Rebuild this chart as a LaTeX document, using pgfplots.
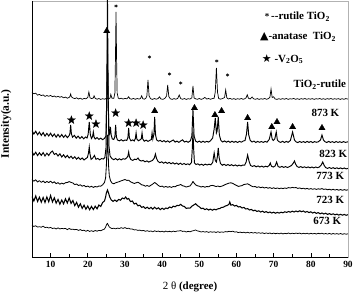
\documentclass[border=0pt]{standalone}
\usepackage{fontspec}
\setmainfont{Liberation Serif}
\newfontfamily\dejavu{DejaVu Sans}
\usepackage{pgfplots}
\pgfplotsset{compat=1.18}
\pgfdeclareplotmark{fstar}{%
\pgfpathmoveto{\pgfqpointpolar{90}{\pgfplotmarksize}}%
\pgfpathlineto{\pgfqpointpolar{126}{0.4\pgfplotmarksize}}%
\pgfpathlineto{\pgfqpointpolar{162}{\pgfplotmarksize}}%
\pgfpathlineto{\pgfqpointpolar{198}{0.4\pgfplotmarksize}}%
\pgfpathlineto{\pgfqpointpolar{234}{\pgfplotmarksize}}%
\pgfpathlineto{\pgfqpointpolar{270}{0.4\pgfplotmarksize}}%
\pgfpathlineto{\pgfqpointpolar{306}{\pgfplotmarksize}}%
\pgfpathlineto{\pgfqpointpolar{342}{0.4\pgfplotmarksize}}%
\pgfpathlineto{\pgfqpointpolar{18}{\pgfplotmarksize}}%
\pgfpathlineto{\pgfqpointpolar{54}{0.4\pgfplotmarksize}}%
\pgfpathclose\pgfusepathqfillstroke}
\begin{document}
\begin{tikzpicture}
\begin{axis}[
 width=316bp, height=256bp, scale only axis,
 xmin=5, xmax=90, ymin=1, ymax=257,
 axis line style={draw=black!30, line width=0.6pt},
 xtick={10,20,...,90}, minor xtick={15,25,...,85}, ytick=\empty,
 xtick pos=left, tick align=inside,
 major tick length=4bp, minor tick length=2.5bp,
 every tick/.style={black, line width=0.6pt},
 /pgf/number format/assume math mode=true,
 xticklabel style={font=\bfseries\fontsize{9.5}{10}\selectfont, yshift=-1bp},
 xlabel={{\mdseries 2 θ} \textbf{(degree)}},
 xlabel style={at={(axis description cs:0.5,-0.117)}, anchor=center, font=\fontsize{11}{12}\selectfont},
 ylabel={\textbf{Intensity(a.u.)}},
 ylabel style={at={(axis description cs:-0.082,0.52)}, anchor=center, font=\fontsize{11.5}{12}\selectfont},
 clip mode=individual,
 cycle list={{black, no markers, line width=0.8pt, line join=round}},
]
% TiO2-rutile
\addplot+[line width=0.7pt] coordinates {(5,165.5)(5.5,164.2)(6,164.8)(6.5,162.9)(7,163.6)(7.5,162.4)(8,163.1)(8.5,161.6)(9,162.5)(9.5,161.7)(10,162.6)(10.5,161.3)(11,162.0)(11.5,160.9)(12,161.7)(12.5,160.8)(13,161.4)(13.5,160.2)(14,160.9)(14.5,159.8)(15,160.6)(15.2,161.5)(15.4,164.0)(15.6,161.2)(16,160.1)(16.5,159.4)(17,160.2)(17.5,159.0)(18,159.8)(18.5,158.7)(19,159.6)(19.5,159.2)(20,160.5)(20.3,166.0)(20.6,160.2)(21,159.4)(21.5,160.0)(21.7,162.2)(22,159.6)(22.5,158.8)(23,159.5)(23.5,158.6)(24,159.3)(24.5,158.8)(25,159.6)(25.5,159.0)(26,160.0)(26.2,163.5)(26.5,159.8)(27,159.6)(27.3,165)(27.45,200)(27.6,246)(27.75,200)(27.9,165)(28.2,160.0)(28.5,159.2)(29,159.8)(29.5,158.9)(30,159.6)(30.5,159.2)(31,161.2)(31.3,159.4)(31.8,158.8)(32.3,159.6)(32.8,158.7)(33.3,159.5)(33.8,158.9)(34.2,159.6)(34.5,162.2)(34.8,159.3)(35.2,158.8)(35.6,159.6)(35.9,162)(36.2,178)(36.5,162)(36.9,159.3)(37.4,158.6)(37.9,159.5)(38.4,158.8)(38.9,159.4)(39.3,161.2)(39.7,159.0)(40.2,158.7)(40.7,159.5)(41.2,162)(41.5,173)(41.8,161.5)(42.2,159.2)(42.7,158.6)(43.2,159.4)(43.7,158.8)(44.2,159.6)(44.6,163.0)(45.0,159.4)(45.5,158.7)(46,159.5)(46.5,158.6)(47,159.3)(47.5,158.9)(48,160.2)(48.3,172)(48.6,160.0)(49,159.2)(49.5,158.7)(50,159.5)(50.5,158.6)(51,159.3)(51.5,160.6)(52,158.9)(52.5,159.5)(53,158.7)(53.5,159.4)(54,159.8)(54.3,166)(54.6,190)(54.9,166)(55.2,159.6)(55.7,158.8)(56.2,159.4)(56.8,160.5)(57.1,168)(57.4,160.3)(57.8,159.0)(58.3,159.6)(58.8,158.7)(59.3,159.4)(59.8,158.6)(60.3,159.3)(60.8,158.8)(61.3,159.5)(61.8,158.7)(62.3,159.4)(62.6,160.3)(62.9,163.2)(63.2,159.8)(63.7,159.0)(64.2,161.0)(64.6,159.2)(65.1,158.7)(65.6,159.4)(66.1,158.6)(66.6,159.3)(67.1,158.8)(67.6,159.5)(68.1,158.7)(68.6,159.4)(69.0,160.8)(69.3,169)(69.6,160.5)(70.0,161.2)(70.4,159.0)(70.9,158.6)(71.4,159.3)(71.9,158.7)(72.4,159.4)(72.9,158.8)(73.4,159.5)(73.9,158.6)(74.4,159.3)(74.9,158.9)(75.4,159.6)(75.9,158.7)(76.4,159.3)(76.9,158.6)(77.4,159.4)(77.9,158.8)(78.4,159.5)(78.9,158.7)(79.4,159.3)(79.9,158.8)(80.4,159.4)(80.9,158.6)(81.4,159.3)(81.9,158.9)(82.4,159.5)(82.9,158.7)(83.4,159.3)(83.9,158.6)(84.4,159.4)(84.9,158.8)(85.4,159.5)(85.9,158.7)(86.4,159.3)(86.9,158.8)(87.4,159.4)(87.9,158.6)(88.4,159.3)(88.9,158.7)(89.4,159.4)(90,158.9)};
% 873 K
\addplot+[line width=0.95pt] coordinates {(5,127.5)(5.5,124.0)(6,126.8)(6.5,123.2)(7,125.9)(7.5,122.6)(8,125.4)(8.5,121.8)(9,124.6)(9.5,122.0)(10,124.8)(10.5,121.5)(11,124.0)(11.5,120.8)(12,123.6)(12.5,120.9)(13,123.5)(13.5,120.6)(14,122.9)(14.5,120.4)(15,122.4)(15.2,124.5)(15.4,133)(15.6,124)(15.9,120.8)(16.4,122.6)(16.9,119.8)(17.4,121.9)(17.9,119.5)(18.4,121.4)(18.9,119.2)(19.4,121.0)(19.8,120.0)(20.1,123.5)(20.4,136)(20.7,123)(21.0,119.5)(21.3,121.5)(21.5,126)(21.7,121)(22.0,119.0)(22.5,120.4)(23,118.6)(23.5,119.9)(24,118.3)(24.5,119.6)(24.9,122)(25.1,160)(25.3,262)(25.5,160)(25.7,123)(25.9,124)(26.1,131)(26.3,123)(26.6,119)(27.0,118.5)(27.3,121.5)(27.5,133)(27.7,121)(28.0,118.0)(28.5,117.2)(29,118.3)(29.5,117.0)(30,118.0)(30.5,117.6)(30.8,120.5)(31.0,130)(31.2,120.0)(31.6,117.2)(32.1,118.1)(32.5,117.0)(32.8,119.5)(33.0,125)(33.2,119.0)(33.6,117.3)(34.1,118.2)(34.4,119.2)(34.6,125)(34.8,119)(35.2,116.8)(35.7,117.9)(36.2,116.6)(36.7,117.7)(37.1,118.5)(37.3,125)(37.5,119)(37.8,124)(38.0,141)(38.2,124)(38.5,118.2)(39,116.8)(39.5,117.6)(40,116.3)(40.5,117.4)(41,116.0)(41.5,117.2)(42,115.8)(42.5,117.0)(43,118.0)(43.5,115.9)(44,116.9)(44.5,115.6)(45,117.0)(45.5,118.2)(46,116.0)(46.5,116.8)(47,115.7)(47.6,117.2)(48.0,122)(48.3,148)(48.6,122)(49.0,117.0)(49.5,115.8)(50,116.9)(50.5,115.6)(51,116.8)(51.5,115.7)(52,116.7)(52.5,115.9)(53,117.2)(53.6,120)(54.0,129)(54.3,140)(54.6,125)(54.8,127)(55.1,141)(55.4,123)(55.8,117.6)(56.3,116.0)(56.8,117.1)(57.3,115.8)(57.8,116.9)(58.3,115.6)(58.8,116.8)(59.3,115.7)(59.8,116.6)(60.3,115.5)(60.8,116.7)(61.3,115.8)(61.8,116.9)(62.3,117.5)(62.7,124)(63.0,136)(63.3,123)(63.7,117.6)(64.2,116.0)(64.7,116.9)(65.2,115.5)(65.7,116.6)(66.2,115.7)(66.7,116.5)(67.2,115.6)(67.7,116.6)(68.2,115.8)(68.8,118.5)(69.3,126)(69.6,119)(69.9,117.5)(70.3,119)(70.7,126)(71.0,118)(71.4,116.4)(71.9,115.6)(72.4,116.7)(72.9,115.5)(73.4,116.6)(73.9,115.7)(74.5,117.5)(75.1,126)(75.6,118)(76.0,116.2)(76.5,115.4)(77,116.5)(77.5,115.6)(78,116.4)(78.5,115.5)(79,116.6)(79.5,115.6)(80,116.5)(80.5,115.4)(81,116.4)(81.5,115.7)(82,116.2)(82.6,118)(83.0,123)(83.4,118)(83.8,116.3)(84.3,115.5)(84.8,116.6)(85.3,115.6)(85.8,116.4)(86.3,115.4)(86.8,116.5)(87.3,115.6)(87.8,116.3)(88.3,115.5)(88.8,116.4)(89.3,115.6)(90,116.2)};
% 823 K
\addplot+[line width=0.95pt] coordinates {(5,106.5)(5.5,103.0)(6,105.8)(6.5,102.4)(7,105.2)(7.5,102.6)(8,105.4)(8.5,102.0)(9,104.8)(9.5,102.5)(10,105.5)(10.5,107.0)(11,103.5)(11.5,104.6)(12,102.0)(12.5,104.2)(13,101.0)(13.5,103.2)(14,100.4)(14.5,102.6)(15,100.0)(15.5,101.8)(16,99.4)(16.5,101.2)(17,98.8)(17.5,100.6)(18,98.5)(18.5,100.0)(19,98.0)(19.5,99.5)(19.9,100.5)(20.2,105)(20.4,111)(20.6,104)(20.9,98.6)(21.3,99.8)(21.8,102.5)(22.2,98.7)(22.7,99.6)(23.2,98.2)(23.7,99.4)(24.2,99.0)(24.6,100.5)(24.9,110)(25.1,160)(25.3,208)(25.5,160)(25.7,112)(26.0,102)(26.5,99.4)(27,98.3)(27.5,99.5)(28,98.0)(28.5,99.2)(29,98.1)(29.5,99.3)(30,98.8)(30.5,100.2)(30.8,102)(31.0,106)(31.2,101.5)(31.6,98.5)(32.1,97.6)(32.6,98.8)(33.1,98.4)(33.5,100)(33.9,97.8)(34.4,97.0)(34.9,97.6)(35.4,96.2)(35.9,97.1)(36.4,95.9)(36.9,96.8)(37.4,97.5)(37.9,100)(38.2,104)(38.5,99.5)(38.9,96.6)(39.4,95.3)(39.9,96.2)(40.4,94.8)(40.9,95.9)(41.4,94.6)(41.9,95.6)(42.4,94.2)(42.9,95.3)(43.4,94.0)(43.9,95.0)(44.4,93.6)(44.9,94.8)(45.4,93.5)(45.9,94.5)(46.4,93.4)(46.9,94.2)(47.4,93.3)(47.9,95.5)(48.1,108)(48.3,126)(48.5,108)(48.7,95.0)(49.1,93.5)(49.6,94.2)(50.1,92.9)(50.6,93.8)(51.1,92.7)(51.6,93.9)(52.1,93.0)(52.6,93.8)(53.1,93.2)(53.6,95.5)(54.0,105)(54.3,97.5)(54.6,96)(54.85,101)(55.1,110)(55.35,100)(55.7,94.5)(56.2,92.8)(56.7,93.7)(57.2,92.5)(57.7,93.5)(58.2,92.4)(58.7,93.3)(59.2,92.2)(59.7,93.1)(60.2,92.0)(60.7,92.9)(61.2,92.1)(61.7,93.0)(62.2,92.8)(62.6,96)(63.0,103)(63.4,96.5)(63.8,92.5)(64.3,91.6)(64.8,92.4)(65.3,91.2)(65.8,92.1)(66.3,91.0)(66.8,91.9)(67.3,90.9)(67.8,91.8)(68.3,91.2)(68.8,92.5)(69.1,95)(69.4,91.8)(69.9,91.0)(70.4,92.0)(70.8,96)(71.2,91.5)(71.7,90.7)(72.2,91.6)(72.7,90.6)(73.2,91.4)(73.7,90.5)(74.2,91.3)(74.8,92.5)(75.3,95)(75.6,97)(75.9,94)(76.3,91.5)(76.8,90.6)(77.3,91.4)(77.8,90.4)(78.3,91.2)(78.8,90.3)(79.3,91.1)(79.8,90.2)(80.3,91.0)(80.8,90.1)(81.3,91.0)(81.8,90.3)(82.3,91.0)(82.8,93)(83.2,96)(83.6,92.5)(84.0,90.4)(84.5,89.6)(85,90.5)(85.5,89.5)(86,90.3)(86.5,89.4)(87,90.2)(87.5,89.3)(88,90.1)(88.5,89.2)(89,90.0)(89.5,89.1)(90,89.6)};
% 773 K
\addplot+[line width=0.85pt] coordinates {(5,78.5)(5.5,76.8)(6,78.2)(6.5,76.0)(7,77.4)(7.5,75.6)(8,77.0)(8.5,75.2)(9,76.6)(9.5,75.4)(10,76.8)(10.5,75.0)(11,76.2)(11.5,74.3)(12,75.4)(12.5,73.8)(13,74.9)(13.5,74.0)(14,75.3)(14.5,75.5)(15,76.4)(15.5,75.6)(16,75.0)(16.5,73.4)(17,74.0)(17.5,72.5)(18,73.2)(18.5,71.8)(19,72.6)(19.5,71.2)(20,72.0)(20.5,70.8)(21,71.7)(21.5,70.6)(22,71.5)(22.5,71.0)(23,72.0)(23.5,71.8)(24,73.2)(24.5,75.5)(24.8,80)(25.0,92)(25.15,108)(25.3,123)(25.45,108)(25.6,92)(25.8,82)(26.1,77.5)(26.5,75.0)(27,74.2)(27.5,75.2)(28,75.8)(28.5,76.4)(29,77.2)(29.5,77.8)(30,78.5)(30.5,77.6)(31,77.8)(31.5,76.2)(32,75.4)(32.5,74.5)(33,75.2)(33.5,75.8)(34,74.6)(34.5,73.2)(35,72.8)(35.5,71.8)(36,72.5)(36.5,71.6)(37,72.8)(37.5,74.0)(38,75.5)(38.5,74.2)(39,72.5)(39.5,71.4)(40,71.9)(40.5,70.8)(41,71.6)(41.5,70.7)(42,71.4)(42.5,70.6)(43,71.5)(43.5,71.2)(44,72.4)(44.5,72.8)(45,73.5)(45.5,72.3)(46,71.8)(46.5,70.9)(47,71.6)(47.5,72.0)(48,74.5)(48.3,76.5)(48.6,75.0)(49,73.2)(49.5,72.2)(50,71.8)(50.5,71.0)(51,71.6)(51.5,70.8)(52,71.5)(52.5,71.2)(53,72.3)(53.5,72.6)(54,72.2)(54.5,71.4)(55,72.0)(55.5,71.3)(56,71.8)(56.5,72.5)(57,73.5)(57.5,74.2)(58,74.9)(58.5,75.2)(59,74.6)(59.5,73.5)(60,72.6)(60.5,71.6)(61,72.0)(61.5,72.4)(62,73.5)(62.5,73.8)(63,74.2)(63.5,73.2)(64,72.0)(64.5,71.2)(65,71.5)(65.5,70.6)(66,71.2)(66.5,70.3)(67,70.9)(67.5,70.0)(68,70.6)(68.5,69.8)(69,70.4)(69.5,69.5)(70,70.2)(70.5,69.4)(71,70.1)(71.5,69.3)(72,69.9)(72.5,69.4)(73,70.0)(73.5,69.6)(74,70.4)(74.5,70.0)(75,70.6)(75.5,70.2)(76,70.5)(76.5,69.6)(77,70.1)(77.5,69.3)(78,69.8)(78.5,69.0)(79,69.6)(79.5,68.8)(80,69.4)(80.5,68.7)(81,69.3)(81.5,68.6)(82,69.2)(82.5,68.8)(83,69.4)(83.5,68.6)(84,69.0)(84.5,68.2)(85,68.8)(85.5,68.0)(86,68.7)(86.5,67.9)(87,68.6)(87.5,67.8)(88,68.5)(88.5,67.7)(89,68.4)(89.5,67.8)(90,68.2)};
% 723 K
\addplot+[line width=1.05pt] coordinates {(5,61.5)(5.5,57.0)(6,62.0)(6.5,56.5)(7,60.8)(7.5,55.8)(8,60.5)(8.5,55.5)(9,61.0)(9.5,56.2)(10,62.5)(10.5,56.0)(11,60.2)(11.5,54.8)(12,58.6)(12.5,53.8)(13,58.0)(13.5,54.2)(14,59.2)(14.5,55.0)(15,60.0)(15.5,54.6)(16,57.5)(16.5,52.4)(17,55.6)(17.5,50.8)(18,54.2)(18.5,49.6)(19,52.8)(19.5,48.8)(20,52.0)(20.5,48.2)(21,51.6)(21.5,48.4)(22,51.8)(22.5,49.2)(23,53.0)(23.5,51.5)(24,55.5)(24.5,57.0)(24.8,61)(25.0,65)(25.3,68)(25.6,65)(25.9,61)(26.3,58.2)(26.8,56.6)(27.3,58.0)(27.8,56.5)(28.3,58.6)(28.8,57.8)(29.3,60.0)(29.8,59.2)(30.2,61.0)(30.6,58.8)(31.0,59.5)(31.5,56.4)(32,57.0)(32.5,54.0)(33,54.8)(33.5,52.2)(34,52.8)(34.5,50.6)(35,51.4)(35.5,49.6)(36,50.8)(36.5,49.2)(37,50.6)(37.5,48.9)(38,50.8)(38.5,49.0)(39,50.2)(39.5,48.4)(40,49.8)(40.5,48.6)(41,50.0)(41.5,49.4)(42,51.0)(42.5,50.2)(43,51.8)(43.5,51.2)(44,52.6)(44.5,52.4)(45,53.6)(45.5,52.0)(46,51.5)(46.5,49.6)(47,50.0)(47.5,49.8)(48,51.8)(48.5,53.0)(49,54.2)(49.5,52.4)(50,51.2)(50.5,49.4)(51,49.8)(51.5,48.4)(52,49.2)(52.5,48.0)(53,48.9)(53.5,47.8)(54,48.8)(54.5,48.2)(55,49.2)(55.5,49.4)(56,50.6)(56.5,50.8)(57,52.0)(57.5,52.5)(58,53.8)(58.2,56.0)(58.5,52.8)(59,53.4)(59.5,52.0)(60,52.6)(60.5,51.0)(61,51.4)(61.5,50.0)(62,50.6)(62.5,49.0)(63,49.4)(63.5,48.0)(64,48.6)(64.5,47.2)(65,47.8)(65.5,46.6)(66,47.2)(66.5,46.0)(67,46.8)(67.5,45.6)(68,46.4)(68.5,45.3)(69,46.0)(69.5,45.0)(70,45.8)(70.5,44.8)(71,45.6)(71.5,44.9)(72,45.8)(72.5,45.2)(73,46.2)(73.5,45.6)(74,46.5)(74.5,45.8)(75,46.8)(75.5,46.0)(76,47.0)(76.5,46.2)(77,47.2)(77.5,46.3)(78,47.0)(78.5,45.8)(79,46.5)(79.5,45.4)(80,46.2)(80.5,45.0)(81,45.8)(81.5,44.6)(82,45.4)(82.5,44.2)(83,45.0)(83.5,44.0)(84,44.8)(84.5,43.6)(85,44.4)(85.5,43.4)(86,44.2)(86.5,43.2)(87,43.9)(87.5,42.9)(88,43.7)(88.5,42.8)(89,43.6)(89.5,42.7)(90,43.3)};
% 673 K
\addplot+[line width=0.75pt] coordinates {(5,32.5)(5.5,31.6)(6,32.2)(6.5,30.9)(7,31.3)(7.5,30.8)(8,31.8)(8.5,30.4)(9,30.8)(9.5,30.0)(10,30.6)(10.5,29.5)(11,30.0)(11.5,29.0)(12,30.1)(12.5,29.1)(13,29.6)(13.5,29.3)(14,29.6)(14.5,28.4)(15,29.5)(15.5,28.6)(16,28.8)(16.5,28.3)(17,28.6)(17.5,27.6)(18,28.4)(18.5,27.4)(19,27.8)(19.5,26.7)(20,27.6)(20.5,26.6)(21,27.3)(21.5,26.5)(22,27.5)(22.5,26.8)(23,27.6)(23.5,27.3)(24,28.2)(24.5,29.0)(24.8,31.0)(25.1,33.8)(25.3,34.5)(25.5,33.0)(25.8,31.0)(26.2,30.0)(26.5,29.4)(27,29.8)(27.5,29.2)(28,29.9)(28.5,29.5)(29,30.3)(29.5,29.6)(30,30.4)(30.5,29.5)(31,29.8)(31.5,28.9)(32,28.9)(32.5,28.1)(33,28.2)(33.5,27.6)(34,27.9)(34.5,27.2)(35,27.6)(35.5,26.7)(36,27.3)(36.5,26.6)(37,27.0)(37.5,26.2)(38,27.2)(38.5,26.5)(39,26.9)(39.5,26.2)(40,26.8)(40.5,26.0)(41,26.9)(41.5,26.2)(42,26.7)(42.5,26.1)(43,26.9)(43.5,26.3)(44,26.9)(44.5,27.0)(45,27.4)(45.5,26.6)(46,26.8)(46.5,26.0)(47,26.7)(47.5,26.2)(48,26.9)(48.5,27.4)(49,28.0)(49.5,27.1)(50,26.7)(50.5,26.0)(51,26.5)(51.5,25.9)(52,26.4)(52.5,25.6)(53,26.3)(53.5,25.8)(54,26.2)(54.5,25.5)(55,26.3)(55.5,25.6)(56,26.1)(56.5,25.7)(57,26.4)(57.5,26.1)(58,26.7)(58.5,26.3)(59,26.8)(59.5,26.0)(60,26.2)(60.5,25.4)(61,25.9)(61.5,25.3)(62,25.8)(62.5,25.1)(63,25.7)(63.5,25.0)(64,25.6)(64.5,24.9)(65,25.5)(65.5,24.8)(66,25.3)(66.5,24.7)(67,25.2)(67.5,24.4)(68,25.1)(68.5,24.5)(69,25.0)(69.5,24.2)(70,24.9)(70.5,24.3)(71,24.8)(71.5,24.2)(72,24.9)(72.5,24.1)(73,24.7)(73.5,24.3)(74,25.0)(74.5,24.2)(75,24.8)(75.5,24.3)(76,24.9)(76.5,24.5)(77,24.9)(77.5,24.1)(78,24.7)(78.5,24.2)(79,24.8)(79.5,24.0)(80,24.7)(80.5,24.1)(81,24.6)(81.5,24.0)(82,24.7)(82.5,24.2)(83,24.8)(83.5,24.0)(84,24.5)(84.5,23.9)(85,24.6)(85.5,23.8)(86,24.5)(86.5,23.9)(87,24.4)(87.5,23.8)(88,24.5)(88.5,23.7)(89,24.3)(89.5,23.8)(90,24.2)};
% peak markers
\addplot[black, only marks, mark=asterisk, mark size=1.7pt, mark options={line width=0.5pt}] coordinates {(27.6,252)(36.6,201)(42.0,184)(45.0,175)(54.7,197)(57.6,183)};
\addplot[black, only marks, mark=triangle*, mark size=3.6pt] coordinates {(25.1,227)(38.0,147)(48.7,150)(54.2,143)(56.0,147)(63.0,140)(69.5,131)(70.9,136)(75.1,131)(83.0,130)};
\addplot[black, only marks, mark=fstar, mark size=4.4pt, mark options={line width=0.2pt}] coordinates {(15.6,138)(20.4,142)(22.2,134)(27.5,145)(31.0,135)(33.0,135)(34.9,133)};
% curve labels
\begin{scope}[every node/.style={font=\bfseries\fontsize{11}{12}\selectfont, anchor=east, inner sep=0pt}]
\node at (axis cs:89.5,173) {TiO\textsubscript{2}-rutile};
\node at (axis cs:87.7,145) {873 K};
\node at (axis cs:89.8,104) {823 K};
\node at (axis cs:89.0,82) {773 K};
\node at (axis cs:89.0,58) {723 K};
\node at (axis cs:88.2,37) {673 K};
\end{scope}
% legend
\begin{scope}[every node/.style={font=\bfseries\fontsize{11}{12}\selectfont, anchor=west, inner sep=0pt}]
\node at (axis cs:67.6,241) {{\fontsize{9}{9}\selectfont *}\,-{}-rutile TiO\textsubscript{2}};
\node at (axis cs:66.3,221) {{\dejavu ▲}-anatase\ \ TiO\textsubscript{2}};
\node at (axis cs:66.8,199) {{\dejavu ★}\ -V\textsubscript{2}O\textsubscript{5}};
\end{scope}
\end{axis}
\draw[black, line width=0.8pt] (current axis.north west) -- (current axis.south west) -- (current axis.south east);
\pgfresetboundingbox
\path ([xshift=-32bp,yshift=-45bp]current axis.south west) rectangle ([xshift=6bp,yshift=1bp]current axis.north east);
\end{tikzpicture}
\end{document}
